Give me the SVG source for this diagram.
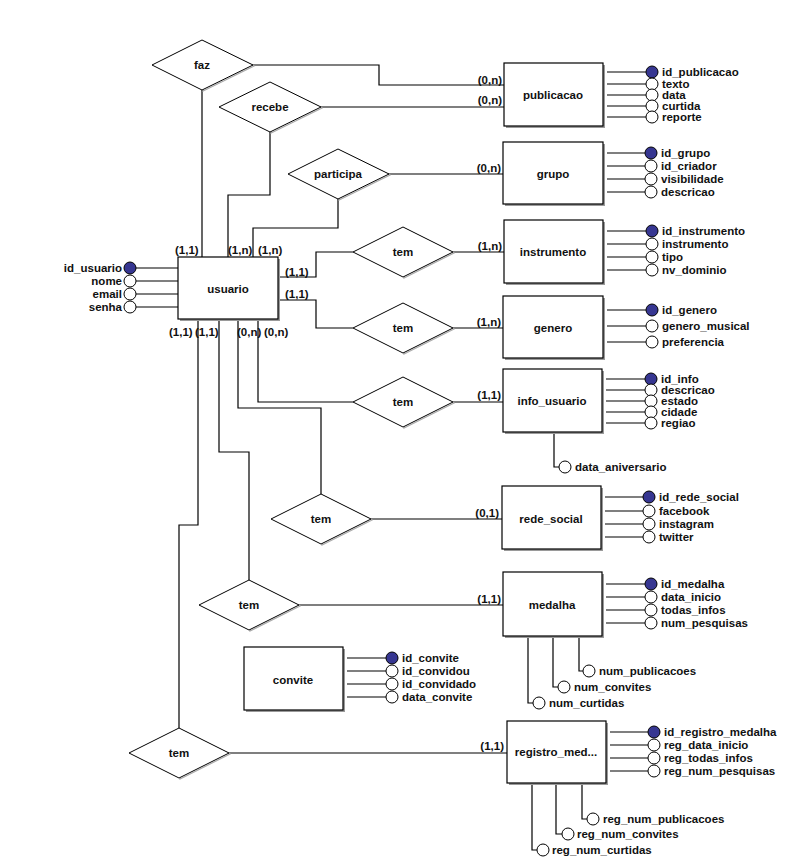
<svg xmlns="http://www.w3.org/2000/svg" width="793" height="865" viewBox="0 0 793 865">
<defs>
<style>
text{font-family:"Liberation Sans",Arial,sans-serif;font-weight:bold;font-size:11.5px;fill:#111}
.c{text-anchor:middle}
.e{text-anchor:end}
.box{fill:#fff;stroke:#000;stroke-width:1.2}
.sh{fill:#9a9a9a}
.dia{fill:#fff;stroke:#000;stroke-width:1}
.dsh{fill:none;stroke:#aaa;stroke-width:1.2}
.ln{fill:none;stroke:#000;stroke-width:1.2}
.a{fill:#fff;stroke:#000;stroke-width:1}
.k{fill:#363691;stroke:#000;stroke-width:1}
</style>
</defs>
<rect width="793" height="865" fill="#fff"/>

<g id="connectors">
<path class="ln" d="M202,90 V257"/>
<path class="ln" d="M252,65 H379 V85 H504"/>
<path class="ln" d="M270,132 V195 H228 V257"/>
<path class="ln" d="M320,107 H504"/>
<path class="ln" d="M338,199 V228 H253 V257"/>
<path class="ln" d="M388,174 H503"/>
<path class="ln" d="M280,277 H316 V252 H353"/>
<path class="ln" d="M453,252 H504"/>
<path class="ln" d="M280,300 H316 V328 H353"/>
<path class="ln" d="M453,328 H503"/>
<path class="ln" d="M258,321 V402 H353"/>
<path class="ln" d="M453,402 H503"/>
<path class="ln" d="M238,321 V408 H321 V494"/>
<path class="ln" d="M371,519 H502"/>
<path class="ln" d="M219,321 V452 H249 V580"/>
<path class="ln" d="M299,605 H503"/>
<path class="ln" d="M198,321 V525 H179 V728"/>
<path class="ln" d="M229,753 H507"/>
<text x="175" y="254">(1,1)</text>
<text x="228" y="254">(1,n)</text>
<text x="258" y="254">(1,n)</text>
<text x="285" y="276">(1,1)</text>
<text x="285" y="298">(1,1)</text>
<text x="169" y="336">(1,1)</text>
<text x="195" y="336">(1,1)</text>
<text x="237" y="336">(0,n)</text>
<text x="264" y="336">(0,n)</text>
<text class="e" x="502" y="84">(0,n)</text>
<text class="e" x="502" y="104">(0,n)</text>
<text class="e" x="501" y="172">(0,n)</text>
<text class="e" x="502" y="250">(1,n)</text>
<text class="e" x="501" y="326">(1,n)</text>
<text class="e" x="501" y="399">(1,1)</text>
<text class="e" x="499" y="517">(0,1)</text>
<text class="e" x="501" y="603">(1,1)</text>
<text class="e" x="504" y="750">(1,1)</text>
</g>

<g id="faz">
<polygon class="dsh" points="203,41 254,66 203,91"/>
<polygon class="dia" points="202,40 253,65 202,90 152,65"/>
<text class="c" x="202" y="69">faz</text>
</g>
<g id="recebe">
<polygon class="dsh" points="271,83 322,108 271,133"/>
<polygon class="dia" points="270,82 321,107 270,132 219,107"/>
<text class="c" x="270" y="111">recebe</text>
</g>
<g id="participa">
<polygon class="dsh" points="339,150 390,175 339,200"/>
<polygon class="dia" points="338,149 389,174 338,199 288,174"/>
<text class="c" x="338" y="178">participa</text>
</g>
<g id="tem_instrumento">
<polygon class="dsh" points="404,228 454,253 404,278"/>
<polygon class="dia" points="403,227 453,252 403,277 353,252"/>
<text class="c" x="403" y="256">tem</text>
</g>
<g id="tem_genero">
<polygon class="dsh" points="404,304 454,329 404,354"/>
<polygon class="dia" points="403,303 453,328 403,353 353,328"/>
<text class="c" x="403" y="332">tem</text>
</g>
<g id="tem_info">
<polygon class="dsh" points="404,378 454,403 404,428"/>
<polygon class="dia" points="403,377 453,402 403,427 353,402"/>
<text class="c" x="403" y="406">tem</text>
</g>
<g id="tem_rede">
<polygon class="dsh" points="322,495 372,520 322,545"/>
<polygon class="dia" points="321,494 371,519 321,544 271,519"/>
<text class="c" x="321" y="523">tem</text>
</g>
<g id="tem_medalha">
<polygon class="dsh" points="250,581 300,606 250,631"/>
<polygon class="dia" points="249,580 299,605 249,630 199,605"/>
<text class="c" x="249" y="609">tem</text>
</g>
<g id="tem_registro">
<polygon class="dsh" points="180,729 230,754 180,779"/>
<polygon class="dia" points="179,728 229,753 179,778 129,753"/>
<text class="c" x="179" y="757">tem</text>
</g>

<g id="usuario">
<path class="ln" d="M136,268 H178 M136,281 H178 M136,294 H178 M136,307 H178"/>
<rect class="sh" x="180" y="259" width="100" height="62"/>
<rect class="box" x="178" y="257" width="100" height="62"/>
<text class="c" x="228" y="293">usuario</text>
<circle class="k" cx="130" cy="268" r="6"/>
<circle class="a" cx="130" cy="281" r="6"/>
<circle class="a" cx="130" cy="294" r="6"/>
<circle class="a" cx="130" cy="307" r="6"/>
<text class="e" x="122" y="272">id_usuario</text>
<text class="e" x="122" y="285">nome</text>
<text class="e" x="122" y="298">email</text>
<text class="e" x="122" y="311">senha</text>
</g>

<g id="publicacao">
<path class="ln" d="M607,72 H646 M607,84 H646 M607,95 H646 M607,106 H646 M607,117 H646"/>
<rect class="sh" x="506" y="65" width="99" height="63"/>
<rect class="box" x="504" y="63" width="99" height="63"/>
<text class="c" x="553" y="99">publicacao</text>
<circle class="k" cx="652" cy="72" r="6"/>
<circle class="a" cx="652" cy="84" r="6"/>
<circle class="a" cx="652" cy="95" r="6"/>
<circle class="a" cx="652" cy="106" r="6"/>
<circle class="a" cx="652" cy="117" r="6"/>
<text x="662" y="76">id_publicacao</text>
<text x="662" y="88">texto</text>
<text x="662" y="99">data</text>
<text x="662" y="110">curtida</text>
<text x="662" y="121">reporte</text>
</g>

<g id="grupo">
<path class="ln" d="M607,153 H645 M607,166 H645 M607,179 H645 M607,192 H645"/>
<rect class="sh" x="505" y="144" width="100" height="62"/>
<rect class="box" x="503" y="142" width="100" height="62"/>
<text class="c" x="553" y="178">grupo</text>
<circle class="k" cx="651" cy="153" r="6"/>
<circle class="a" cx="651" cy="166" r="6"/>
<circle class="a" cx="651" cy="179" r="6"/>
<circle class="a" cx="651" cy="192" r="6"/>
<text x="661" y="157">id_grupo</text>
<text x="661" y="170">id_criador</text>
<text x="661" y="183">visibilidade</text>
<text x="661" y="196">descricao</text>
</g>

<g id="instrumento">
<path class="ln" d="M607,231 H646 M607,244 H646 M607,257 H646 M607,270 H646"/>
<rect class="sh" x="506" y="222" width="99" height="63"/>
<rect class="box" x="504" y="220" width="99" height="63"/>
<text class="c" x="553" y="256">instrumento</text>
<circle class="k" cx="652" cy="231" r="6"/>
<circle class="a" cx="652" cy="244" r="6"/>
<circle class="a" cx="652" cy="257" r="6"/>
<circle class="a" cx="652" cy="270" r="6"/>
<text x="662" y="235">id_instrumento</text>
<text x="662" y="248">instrumento</text>
<text x="662" y="261">tipo</text>
<text x="662" y="274">nv_dominio</text>
</g>

<g id="genero">
<path class="ln" d="M607,310 H646 M607,326 H646 M607,342 H646"/>
<rect class="sh" x="505" y="298" width="100" height="62"/>
<rect class="box" x="503" y="296" width="100" height="62"/>
<text class="c" x="553" y="332">genero</text>
<circle class="k" cx="652" cy="310" r="6"/>
<circle class="a" cx="652" cy="326" r="6"/>
<circle class="a" cx="652" cy="342" r="6"/>
<text x="662" y="314">id_genero</text>
<text x="662" y="330">genero_musical</text>
<text x="662" y="346">preferencia</text>
</g>

<g id="info_usuario">
<path class="ln" d="M606,379 H645 M606,390 H645 M606,401 H645 M606,412 H645 M606,423 H645"/>
<path class="ln" d="M554,434 V467 H559"/>
<rect class="sh" x="505" y="371" width="99" height="63"/>
<rect class="box" x="503" y="369" width="99" height="63"/>
<text class="c" x="552" y="405">info_usuario</text>
<circle class="k" cx="651" cy="379" r="6"/>
<circle class="a" cx="651" cy="390" r="6"/>
<circle class="a" cx="651" cy="401" r="6"/>
<circle class="a" cx="651" cy="412" r="6"/>
<circle class="a" cx="651" cy="423" r="6"/>
<text x="661" y="383">id_info</text>
<text x="661" y="394">descricao</text>
<text x="661" y="405">estado</text>
<text x="661" y="416">cidade</text>
<text x="661" y="427">regiao</text>
<circle class="a" cx="565" cy="467" r="6"/>
<text x="575" y="471">data_aniversario</text>
</g>

<g id="rede_social">
<path class="ln" d="M605,497 H643 M605,511 H643 M605,524 H643 M605,537 H643"/>
<rect class="sh" x="504" y="488" width="99" height="63"/>
<rect class="box" x="502" y="486" width="99" height="63"/>
<text class="c" x="551" y="523">rede_social</text>
<circle class="k" cx="649" cy="497" r="6"/>
<circle class="a" cx="649" cy="511" r="6"/>
<circle class="a" cx="649" cy="524" r="6"/>
<circle class="a" cx="649" cy="537" r="6"/>
<text x="659" y="501">id_rede_social</text>
<text x="659" y="515">facebook</text>
<text x="659" y="528">instagram</text>
<text x="659" y="541">twitter</text>
</g>

<g id="medalha">
<path class="ln" d="M606,584 H645 M606,597 H645 M606,610 H645 M606,623 H645"/>
<path class="ln" d="M579,636 V671 H583 M553,636 V687 H558 M528,636 V703 H533"/>
<rect class="sh" x="505" y="574" width="99" height="64"/>
<rect class="box" x="503" y="572" width="99" height="64"/>
<text class="c" x="552" y="609">medalha</text>
<circle class="k" cx="651" cy="584" r="6"/>
<circle class="a" cx="651" cy="597" r="6"/>
<circle class="a" cx="651" cy="610" r="6"/>
<circle class="a" cx="651" cy="623" r="6"/>
<text x="661" y="588">id_medalha</text>
<text x="661" y="601">data_inicio</text>
<text x="661" y="614">todas_infos</text>
<text x="661" y="627">num_pesquisas</text>
<circle class="a" cx="589" cy="671" r="6"/>
<circle class="a" cx="564" cy="687" r="6"/>
<circle class="a" cx="539" cy="703" r="6"/>
<text x="599" y="675">num_publicacoes</text>
<text x="574" y="691">num_convites</text>
<text x="549" y="707">num_curtidas</text>
</g>

<g id="convite">
<path class="ln" d="M347,658 H386 M347,671 H386 M347,684 H386 M347,697 H386"/>
<rect class="sh" x="246" y="649" width="99" height="63"/>
<rect class="box" x="244" y="647" width="99" height="63"/>
<text class="c" x="293" y="684">convite</text>
<circle class="k" cx="392" cy="658" r="6"/>
<circle class="a" cx="392" cy="671" r="6"/>
<circle class="a" cx="392" cy="684" r="6"/>
<circle class="a" cx="392" cy="697" r="6"/>
<text x="402" y="662">id_convite</text>
<text x="402" y="675">id_convidou</text>
<text x="402" y="688">id_convidado</text>
<text x="402" y="701">data_convite</text>
</g>

<g id="registro_medalha">
<path class="ln" d="M610,732 H648 M610,745 H648 M610,758 H648 M610,771 H648"/>
<path class="ln" d="M582,783 V819 H587 M556,783 V834 H562 M532,783 V850 H537"/>
<rect class="sh" x="509" y="723" width="99" height="62"/>
<rect class="box" x="507" y="721" width="99" height="62"/>
<text class="c" x="556" y="756">registro_med...</text>
<circle class="k" cx="654" cy="732" r="6"/>
<circle class="a" cx="654" cy="745" r="6"/>
<circle class="a" cx="654" cy="758" r="6"/>
<circle class="a" cx="654" cy="771" r="6"/>
<text x="664" y="736">id_registro_medalha</text>
<text x="664" y="749">reg_data_inicio</text>
<text x="664" y="762">reg_todas_infos</text>
<text x="664" y="775">reg_num_pesquisas</text>
<circle class="a" cx="593" cy="819" r="6"/>
<circle class="a" cx="568" cy="834" r="6"/>
<circle class="a" cx="543" cy="850" r="6"/>
<text x="603" y="823">reg_num_publicacoes</text>
<text x="577" y="838">reg_num_convites</text>
<text x="552" y="854">reg_num_curtidas</text>
</g>
</svg>
